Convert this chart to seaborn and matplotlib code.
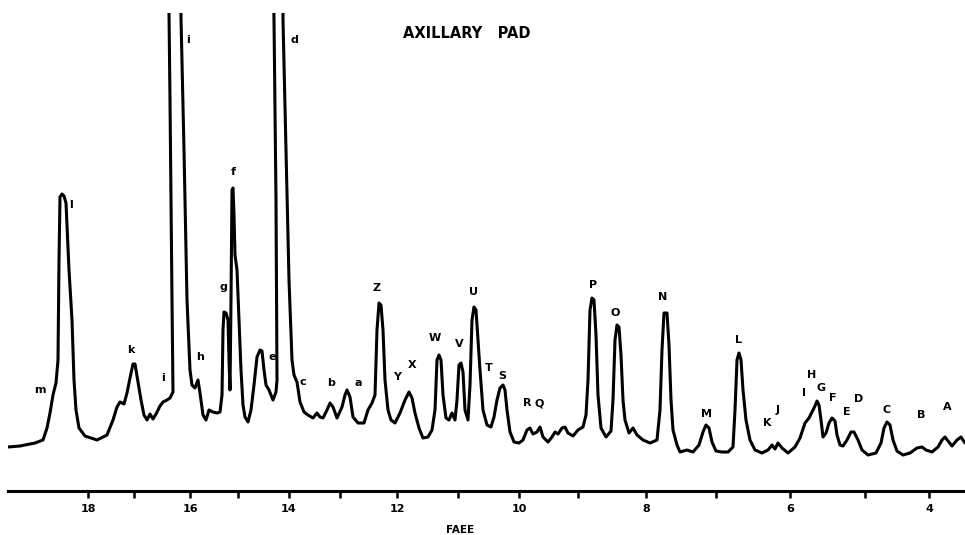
import matplotlib
matplotlib.use("Agg")
import matplotlib.pyplot as plt
import seaborn as sns

# chromatogram trace (retention in chart units, detector signal above axis)
retention = [
    8, 20, 35, 43, 47, 50, 53, 56, 58, 59, 60, 62, 64, 66, 69, 72, 74, 76, 79, 85,
    97, 107, 113, 117, 120, 124, 127, 130, 133, 135, 138, 141, 144, 147, 150, 153, 156, 160, 163, 167,
    170, 173, 172, 170, 169, 169, 181, 181, 184, 187, 190, 192, 195, 198, 200, 203, 206, 209, 213, 217,
    220, 222, 223, 224, 226, 228, 229, 230, 231, 232, 233, 234, 235, 237, 239, 241, 243, 245, 248, 251,
    254, 257, 260, 262, 264, 266, 269, 273, 276, 277, 276, 274, 273, 283, 283, 286, 289, 292, 294, 297,
    300, 304, 308, 313, 317, 320, 323, 327, 330, 333, 337, 342, 345, 347, 350, 353, 358, 364, 368, 372,
    375, 377, 379, 381, 383, 385, 388, 391, 395, 400, 405, 409, 412, 415, 419, 423, 428, 432, 435, 437,
    439, 441, 443, 446, 449, 452, 455, 457, 459, 461, 463, 465, 468, 470, 472, 474, 476, 478, 480, 483,
    487, 491, 494, 497, 500, 503, 505, 507, 510, 514, 519, 523, 527, 530, 533, 537, 540, 543, 548, 552,
    555, 558, 562, 565, 568, 573, 578, 583, 586, 588, 590, 592, 594, 596, 598, 601, 606, 611, 613, 615,
    617, 619, 621, 623, 625, 629, 633, 637, 643, 650, 657, 660, 662, 664, 667, 669, 671, 673, 677, 680,
    687, 693, 699, 703, 706, 709, 712, 716, 722, 728, 733, 735, 737, 739, 741, 743, 746, 750, 755, 762,
    768, 772, 775, 778, 782, 788, 795, 800, 805, 809, 813, 815, 817, 819, 821, 823, 826, 829, 832, 835,
    837, 840, 843, 847, 851, 854, 858, 862, 868, 876, 881, 884, 887, 890, 893, 897, 903, 910, 917, 922,
    926, 932, 938, 942, 945, 948, 952, 957, 961, 965,
]
signal = [
    44, 45, 48, 51, 63, 78, 96, 108, 131, 231, 294, 297, 295, 288, 221, 171, 111, 81, 63, 55,
    51, 56, 71, 84, 89, 87, 98, 113, 127, 127, 109, 91, 76, 71, 77, 72, 77, 85, 89, 91,
    93, 99, 191, 391, 478, 531, 531, 473, 341, 191, 121, 106, 103, 111, 98, 76, 71, 81, 79, 78,
    79, 96, 161, 179, 178, 171, 131, 101, 191, 301, 303, 276, 236, 221, 171, 121, 86, 74, 69, 81,
    106, 134, 141, 140, 121, 106, 101, 91, 99, 111, 291, 471, 531, 531, 471, 341, 211, 131, 116, 109,
    89, 79, 76, 73, 78, 74, 73, 81, 88, 84, 73, 84, 96, 101, 94, 74, 68, 68, 81, 88,
    96, 161, 188, 186, 161, 111, 81, 71, 68, 78, 91, 99, 93, 78, 63, 53, 54, 61, 81, 131,
    136, 131, 96, 73, 71, 78, 71, 91, 126, 128, 119, 81, 71, 106, 171, 184, 181, 151, 121, 81,
    66, 64, 74, 91, 103, 106, 101, 81, 59, 49, 48, 51, 61, 63, 57, 59, 64, 54, 49, 54,
    59, 57, 63, 64, 58, 55, 61, 64, 76, 111, 181, 193, 191, 156, 96, 63, 54, 60, 91, 151,
    166, 164, 136, 91, 71, 58, 63, 56, 51, 48, 51, 81, 141, 178, 178, 146, 91, 61, 46, 39,
    41, 39, 46, 59, 66, 63, 49, 40, 39, 39, 44, 81, 131, 138, 131, 101, 71, 51, 41, 38,
    41, 46, 42, 48, 43, 38, 44, 53, 68, 73, 81, 85, 90, 86, 71, 54, 58, 68, 73, 70,
    56, 46, 45, 51, 59, 59, 51, 41, 36, 38, 48, 63, 69, 66, 51, 40, 36, 38, 43, 44,
    41, 39, 44, 51, 54, 50, 45, 51, 54, 48,
]

# peak letters and where they are printed
peak_labels = ["m", "l", "k", "i", "i", "h", "g", "f", "e", "d", "c", "b", "a",
               "Z", "Y", "X", "W", "V", "U", "T", "S", "R", "Q", "P", "O", "N",
               "M", "L", "K", "J", "I", "H", "G", "F", "E", "D", "C", "B", "A"]
label_x = [40, 71, 131, 163, 188, 200, 223, 233, 272, 294, 303, 331, 358,
           377, 397, 412, 435, 459, 473, 489, 502, 527, 539, 593, 615, 663,
           707, 738, 767, 778, 804, 812, 821, 833, 847, 859, 887, 921, 947]
label_y = [101, 286, 141, 113, 451, 134, 204, 319, 134, 451, 109, 108, 108,
           203, 114, 126, 153, 147, 199, 123, 115, 88, 88, 206, 178, 194,
           77, 151, 68, 81, 98, 116, 103, 93, 79, 92, 81, 76, 84]

# FAEE scale under the trace
faee_ticks = [88, 190, 289, 397, 519, 646, 790, 929]
faee_labels = ["18", "16", "14", "12", "10", "8", "6", "4"]
faee_minor = [134, 238, 340, 458, 578, 716, 865]


def plot_chromatogram():
    sns.set_style("white", {"text.color": "black", "axes.edgecolor": "black",
                            "xtick.color": "black"})
    fig = plt.figure(figsize=(9.65, 5.35), dpi=100)
    ax = fig.add_axes([8 / 965, 44 / 535, 957 / 965, 478 / 535])

    sns.lineplot(x=retention, y=signal, sort=False, estimator=None,
                 color="black", linewidth=2.2, ax=ax)

    for lab, x, y in zip(peak_labels, label_x, label_y):
        ax.text(x, y, lab, fontsize=8, fontweight="bold", color="black",
                ha="center", va="center")

    ax.text(467, 458, "AXILLARY   PAD", fontsize=10.5, fontweight="bold",
            color="black", ha="center", va="center")

    ax.set_xlim(8, 965)
    ax.set_ylim(0, 478)
    ax.set_xlabel("")
    ax.set_ylabel("")

    # only the bottom axis line with the FAEE ticks
    for side in ["top", "left", "right"]:
        ax.spines[side].set_visible(False)
    ax.spines["bottom"].set_linewidth(2.2)
    ax.spines["bottom"].set_color("black")
    ax.set_yticks([])
    ax.set_xticks(faee_ticks)
    ax.set_xticklabels(faee_labels, fontsize=8, fontweight="bold", color="black")
    ax.set_xticks(faee_minor, minor=True)
    ax.tick_params(axis="x", which="both", direction="out", length=5, width=1.8,
                   pad=4, bottom=True, color="black")

    fig.text(460 / 965, 1 - 530 / 535, "FAEE", fontsize=7.5, fontweight="bold",
             color="black", ha="center", va="center")

    fig.savefig("out.png", dpi=100)


plot_chromatogram()
